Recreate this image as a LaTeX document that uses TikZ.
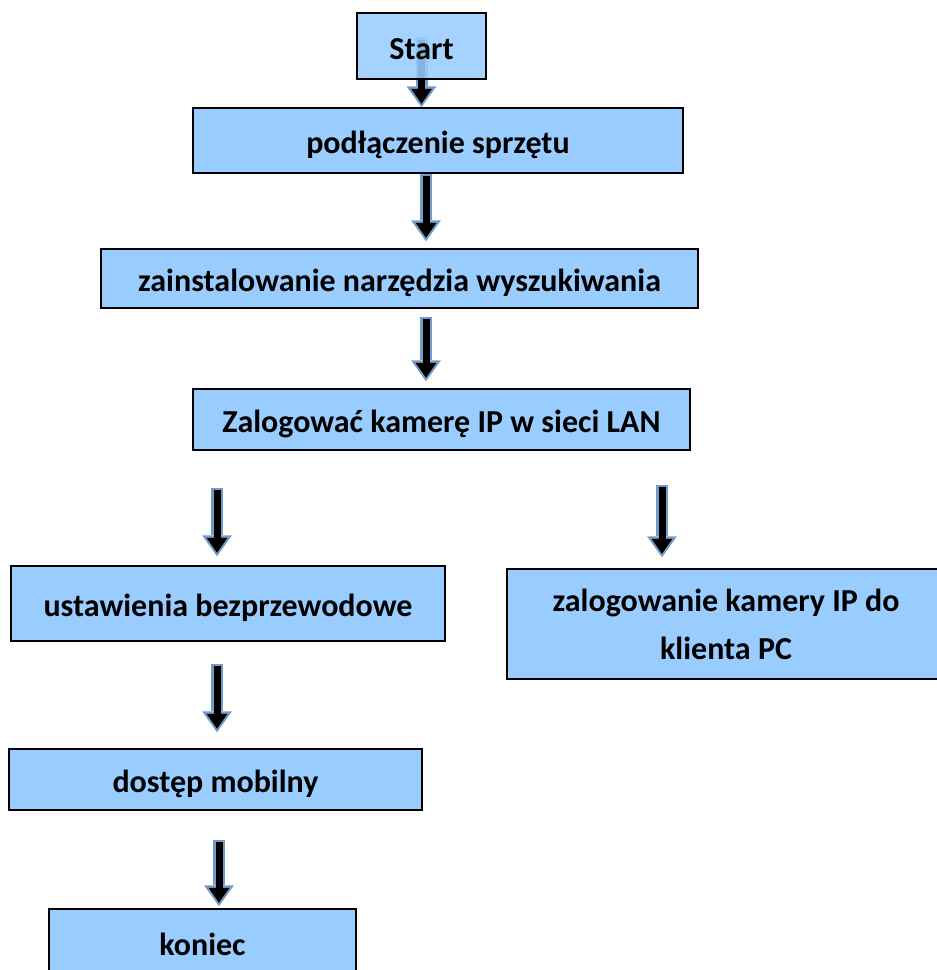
\documentclass[tikz,border=0pt]{standalone}
\usepackage{fontspec}
\setmainfont{Carlito}
\usetikzlibrary{arrows.meta,backgrounds}
\definecolor{boxblue}{RGB}{153,204,255}
\definecolor{arrowblue}{RGB}{115,155,200}

\begin{document}
\begin{tikzpicture}[x=1pt,y=-1pt,
box/.style={draw=black,line width=1.5pt,fill=boxblue,align=center,inner sep=0pt,font=\bfseries\fontsize{32}{48}\selectfont},
onebox/.style={box,text height=28pt,text depth=2pt},
barrow/.style={line width=12pt,draw=arrowblue,-{Triangle[length=21pt,width=30pt,line width=0pt]},postaction={draw=black,line width=7pt,-{Triangle[length=15pt,width=21pt,line width=0pt]},shorten >=3.5pt,shorten <=2.5pt}}]
\useasboundingbox (0,0) rectangle (937,970);
\node[onebox,minimum width=129pt,minimum height=66pt,fill opacity=0.88,text opacity=1] (start) at (421.5,46) {Start};
\node[onebox,minimum width=490pt,minimum height=65pt] (podl) at (438,140.5) {podłączenie sprzętu};
\node[onebox,minimum width=597pt,minimum height=59pt] (inst) at (399.5,278.5) {zainstalowanie narzędzia wyszukiwania};
\node[onebox,minimum width=497pt,minimum height=61pt] (zal) at (441.5,419.5) {Zalogować kamerę IP w sieci LAN};
\node[onebox,minimum width=434pt,minimum height=75pt] (ustaw) at (228,603.5) {ustawienia bezprzewodowe};
\node[box,minimum width=438pt,minimum height=110pt] (klient) at (726,624) {zalogowanie kamery IP do\\klienta PC};
\node[onebox,minimum width=413pt,minimum height=61pt] (dost) at (215.5,779.5) {dostęp mobilny};
\node[onebox,minimum width=307pt,minimum height=66pt] (kon) at (202.5,942) {koniec};
\begin{scope}[on background layer]
\draw[barrow] ([yshift=9pt]start.center) -- (start.center |- podl.north);
\end{scope}
\draw[barrow] ([xshift=-12pt]podl.south) -- ([xshift=26.5pt,yshift=7pt]inst.north);
\draw[barrow] ([xshift=26.5pt,yshift=-8pt]inst.south) -- ([xshift=-15.5pt,yshift=7pt]zal.north);
\draw[barrow] ([xshift=-224.5pt,yshift=-37pt]zal.south) -- ([xshift=-11pt,yshift=9pt]ustaw.north);
\draw[barrow] ([xshift=220.5pt,yshift=-34pt]zal.south) -- ([xshift=-64pt,yshift=11pt]klient.north);
\draw[barrow] ([xshift=-11pt,yshift=-22pt]ustaw.south) -- ([xshift=1.5pt,yshift=16pt]dost.north);
\draw[barrow] ([xshift=3.5pt,yshift=-29pt]dost.south) -- ([xshift=16.5pt,yshift=2pt]kon.north);
\end{tikzpicture}
\end{document}
